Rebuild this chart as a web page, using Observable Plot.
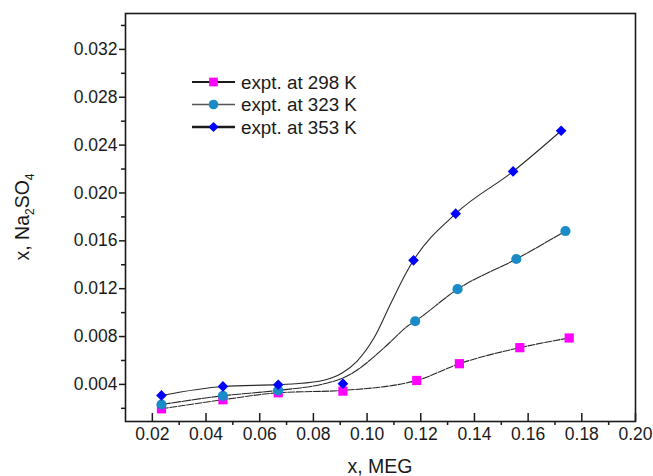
<!DOCTYPE html>
<html><head><meta charset="utf-8">
<script src="https://cdn.jsdelivr.net/npm/d3@7"></script>
<script src="https://cdn.jsdelivr.net/npm/@observablehq/plot@0.6"></script>
<style>
body{margin:0;background:#fff}
svg{font-family:"Liberation Sans",Arial,Helvetica,sans-serif}
</style>
</head><body><div id="chart"></div>
<script>
// ---- data ----
const seriesNames = ["expt. at 298 K", "expt. at 323 K", "expt. at 353 K"];
const seriesColors = ["#ff00ff", "#1a8bc6", "#0000ff"];
const seriesSymbols = ["square", "circle", "diamond2"];

// experimental points
const x298 = [0.0234, 0.0463, 0.0669, 0.0910, 0.1185, 0.1344, 0.1569, 0.1753];
const y298 = [0.00196, 0.00272, 0.00330, 0.00344, 0.00433, 0.00573, 0.00707, 0.00788];

const x323 = [0.0234, 0.0463, 0.0669, 0.1179, 0.1337, 0.1556, 0.1739];
const y323 = [0.00232, 0.00305, 0.00350, 0.00928, 0.01196, 0.01448, 0.01682];

const x353 = [0.0234, 0.0463, 0.0669, 0.0910, 0.1173, 0.1330, 0.1544, 0.1723];
const y353 = [0.00308, 0.00383, 0.00397, 0.00406, 0.01437, 0.01827, 0.02180, 0.02520];

// smooth curves as drawn in the reference
const curve298x = [0.0234, 0.0463, 0.0669, 0.0910, 0.1185, 0.1344, 0.1569, 0.1753];
const curve298y = [0.00196, 0.00272, 0.00330, 0.00350, 0.00433, 0.00573, 0.00707, 0.00788];

const curve323x = [0.0234, 0.0463, 0.0669, 0.0839, 0.0907, 0.0963, 0.1025, 0.1087, 0.1150, 0.1179, 0.1337, 0.1556, 0.1739];
const curve323y = [0.00232, 0.00305, 0.00350, 0.00405, 0.00450, 0.00520, 0.00630, 0.00755, 0.00886, 0.00928, 0.01196, 0.01448, 0.01682];

const curve353x = [0.0234, 0.0463, 0.0669, 0.0730, 0.0839, 0.0907, 0.0963, 0.1025, 0.1090, 0.1150, 0.1173, 0.1330, 0.1544, 0.1723];
const curve353y = [0.00308, 0.00383, 0.00398, 0.00405, 0.00435, 0.00495, 0.00595, 0.00785, 0.01085, 0.01350, 0.01437, 0.01827, 0.02180, 0.02520];

const xTicks = [0.02, 0.04, 0.06, 0.08, 0.10, 0.12, 0.14, 0.16, 0.18, 0.20];
const xMinor = [0.03, 0.05, 0.07, 0.09, 0.11, 0.13, 0.15, 0.17, 0.19];
const yTicks = [0.004, 0.008, 0.012, 0.016, 0.020, 0.024, 0.028, 0.032];
const yMinor = [0.002, 0.006, 0.010, 0.014, 0.018, 0.022, 0.026, 0.030, 0.034];

const xLabel = "x, MEG";

// ---- build tables ----
const mk = (xs, ys) => xs.map((x, i) => ({x, y: ys[i]}));
const d298 = mk(x298, y298), d323 = mk(x323, y323), d353 = mk(x353, y353);
const c298 = mk(curve298x, curve298y), c323 = mk(curve323x, curve323y), c353 = mk(curve353x, curve353y);

const tickFont = 17.5;
const lineColor = "#2a2a2a";
const noText = () => "";

const chart = Plot.plot({
  width: 653,
  height: 476,
  marginLeft: 125,
  marginRight: 18,
  marginTop: 13,
  marginBottom: 55,
  style: {background: "#fff", color: "#1a1a1a"},
  x: {domain: [0.01, 0.20]},
  y: {domain: [0.0009, 0.035]},
  marks: [
    Plot.line(c298, {x: "x", y: "y", curve: "monotone-x", stroke: lineColor, strokeWidth: 1.1, strokeDasharray: "7,1.5"}),
    Plot.line(c323, {x: "x", y: "y", curve: "monotone-x", stroke: lineColor, strokeWidth: 1.1, strokeDasharray: "9,1.2"}),
    Plot.line(c353, {x: "x", y: "y", curve: "monotone-x", stroke: lineColor, strokeWidth: 1.1}),
    Plot.dot(d298, {x: "x", y: "y", symbol: seriesSymbols[0], r: 5.2, fill: seriesColors[0]}),
    Plot.dot(d323, {x: "x", y: "y", symbol: seriesSymbols[1], r: 5.1, fill: seriesColors[1]}),
    Plot.dot(d353, {x: "x", y: "y", symbol: seriesSymbols[2], r: 4.8, fill: seriesColors[2]}),
    Plot.frame({stroke: "#1a1a1a", strokeWidth: 1.6}),
    Plot.axisX({ticks: xTicks, anchor: "bottom", tickSize: 8, dy: -8, strokeWidth: 1.5, tickFormat: noText, label: null}),
    Plot.axisX({ticks: xMinor, anchor: "bottom", tickSize: 4, strokeWidth: 1.5, tickFormat: noText, label: null}),
    Plot.axisX({ticks: xTicks, anchor: "bottom", tickSize: 0, tickPadding: 6.5, tickFormat: d3.format(".2f"), fontSize: tickFont, label: null}),
    Plot.axisY({ticks: yTicks, anchor: "left", tickSize: 6, strokeWidth: 1.5, tickPadding: 2, tickFormat: d3.format(".3f"), fontSize: tickFont, label: null}),
    Plot.axisY({ticks: yMinor, anchor: "left", tickSize: 4, strokeWidth: 1.5, tickFormat: noText, label: null})
  ]
});
document.getElementById("chart").appendChild(chart);

// ---- axis titles and in-plot legend ----
const svg = d3.select(chart);
svg.append("text")
  .attr("x", 380).attr("y", 473)
  .attr("text-anchor", "middle")
  .attr("font-size", 19.5).attr("fill", "#1a1a1a")
  .text(xLabel);

const yl = svg.append("text")
  .attr("transform", "translate(29,217) rotate(-90)")
  .attr("text-anchor", "middle")
  .attr("font-size", 19.5).attr("fill", "#1a1a1a");
yl.append("tspan").text("x, Na");
yl.append("tspan").attr("font-size", 12).attr("dy", 5).text("2");
yl.append("tspan").attr("dy", -5).text("SO");
yl.append("tspan").attr("font-size", 12).attr("dy", 5).text("4");

const symTypes = {square: d3.symbolSquare, circle: d3.symbolCircle, diamond2: d3.symbolDiamond2};
const legendW = [2, 1.3, 2.4];
const legendStroke = ["#1a1a1a", "#555", "#1a1a1a"];
const lg = svg.append("g").attr("text-anchor", "start");
seriesNames.forEach((name, i) => {
  const yy = 82 + i * 22.5;
  lg.append("line").attr("x1", 192).attr("x2", 235).attr("y1", yy).attr("y2", yy)
    .attr("stroke", legendStroke[i]).attr("stroke-width", legendW[i]);
  const r = [4.9, 4.8, 4.6][i];
  lg.append("path")
    .attr("d", d3.symbol().type(symTypes[seriesSymbols[i]]).size(Math.PI * r * r)())
    .attr("transform", `translate(213.5,${yy})`)
    .attr("fill", seriesColors[i]);
  lg.append("text").attr("x", 241).attr("y", yy).attr("dy", "0.36em")
    .attr("text-anchor", "start")
    .attr("font-size", 18.8).attr("fill", "#1a1a1a").text(name);
});
</script>
</body></html>
